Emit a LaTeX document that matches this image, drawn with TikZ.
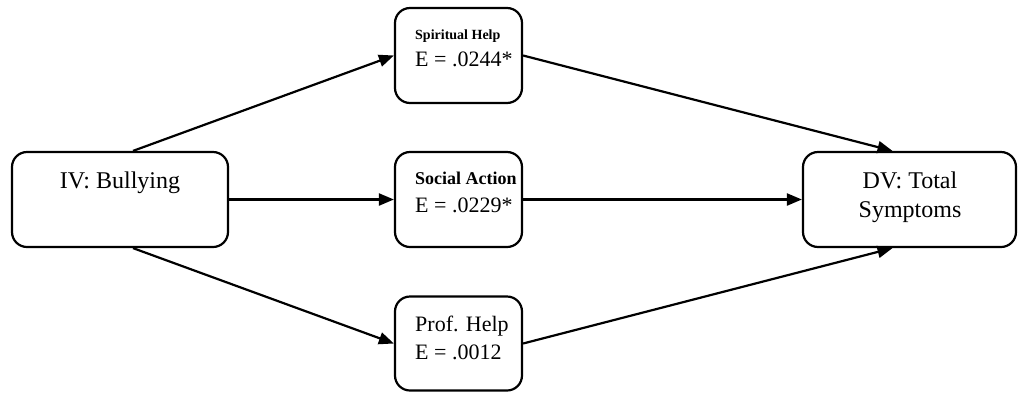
\documentclass[tikz,border=0pt]{standalone}
\usepackage{fontspec}
\setmainfont{Liberation Serif}
\usetikzlibrary{arrows.meta}
\begin{document}
\begin{tikzpicture}[x=1pt,y=-1pt,
  box/.style={draw, line width=2.2pt, rounded corners=15pt, inner sep=0pt},
  link/.style={line width=2.2pt, -{Triangle[length=15pt,width=12pt]}},
  txt/.style={inner sep=0pt, anchor=base west, font=\fontsize{22}{26}\selectfont},
  ctxt/.style={txt, anchor=base, font=\fontsize{24}{28}\selectfont},
  hdsmall/.style={txt, font=\fontsize{14}{17}\selectfont\bfseries},
  hdbig/.style={txt, font=\fontsize{18}{22}\selectfont\bfseries}]
\useasboundingbox (0,0) rectangle (1018,392);

% boxes
\node[box, minimum width=216pt, minimum height=95pt] (iv) at (120,199.5) {};
\node[box, minimum width=127pt, minimum height=95pt] (sp) at (458.5,55.5) {};
\node[box, minimum width=127pt, minimum height=95pt] (so) at (458.5,199.5) {};
\node[box, minimum width=127pt, minimum height=94pt] (pr) at (458.5,343.5) {};
\node[box, minimum width=213pt, minimum height=95pt] (dv) at (909.5,199.5) {};

% labels
\node[ctxt] (ivt) at (120,188) {IV: Bullying};
\node[ctxt] (dvt1) at (910,188) {DV: Total};
\node[ctxt] (dvt2) at (910,217) {Symptoms};
\node[hdsmall] (spt1) at (415,39) {Spiritual Help};
\node[txt] (spt2) at (415,66) {E = .0244*};
\node[hdbig] (sot1) at (415,184) {Social Action};
\node[txt] (sot2) at (415,212) {E = .0229*};
\node[txt] (prt1) at (415,331) {Prof. Help};
\node[txt] (prt2) at (415,359) {E = .0012};

% paths
\draw[link] ([xshift=13pt]iv.north) -- (sp.west);
\draw[link] (iv.east) -- (so.west);
\draw[link] ([xshift=13pt]iv.south) -- (pr.west);
\draw[link] (sp.east) -- ([xshift=-17pt]dv.north);
\draw[link] (so.east) -- (dv.west);
\draw[link] (pr.east) -- ([xshift=-17pt]dv.south);
\end{tikzpicture}
\end{document}
